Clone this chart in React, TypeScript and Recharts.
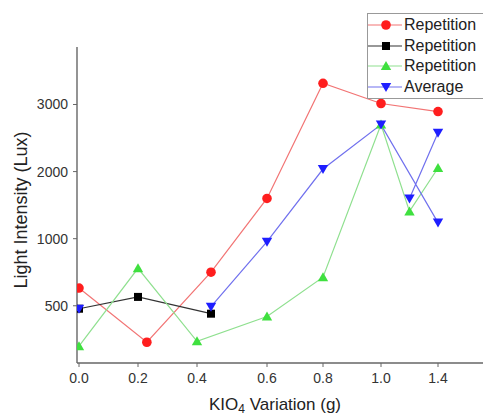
import { LineChart, Line, XAxis, YAxis } from "recharts";

// x tick labels and where they sit (the source axis is not evenly spaced)
const X_LABELS = [0, 0.2, 0.4, 0.6, 0.8, 1.0, 1.4];
const X_POS = [0, 59, 118, 188, 244, 302, 359];

// y tick labels (the source axis is piecewise: 500-1000 gets the same room as 1000-2000)
const Y_LABELS = [500, 1000, 2000, 3000];

const redX = [0, 0.23, 0.44, 0.6, 0.8, 1.0, 1.4];
const redY = [632, 228, 750, 1600, 3316, 3015, 2895];

const blackX = [0, 0.2, 0.44];
const blackY = [478, 566, 441];

const greenX = [0, 0.2, 0.4, 0.6, 0.8, 1.0, 1.2, 1.4];
const greenY = [199, 779, 235, 420, 713, 2700, 1406, 2053];

// null = break in the line
const blueX = [0, 0.2, 0.44, 0.6, 0.8, 1.0, 1.4, 1.3, 1.2, 1.4];
const blueY = [478, null, 493, 978, 2038, 2700, 1240, null, 1600, 2580];

const NAMES = ["Repetition", "Repetition", "Repetition", "Average"];

const xPos = (x: number) => {
  for (let i = 1; i < X_LABELS.length; i++) {
    if (x <= X_LABELS[i]) {
      const t = (x - X_LABELS[i - 1]) / (X_LABELS[i] - X_LABELS[i - 1]);
      return X_POS[i - 1] + t * (X_POS[i] - X_POS[i - 1]);
    }
  }
  return X_POS[X_POS.length - 1];
};

const yPos = (v: number | null) => {
  if (v == null) return null;
  return v <= 1000 ? v / 500 : 2 + (v - 1000) / 1000;
};

const build = (xs: number[], ys: (number | null)[]) =>
  xs.map((x, i) => ({ x: xPos(x), y: yPos(ys[i]) }));

const SERIES = [
  { data: build(redX, redY), line: "#f27474", mark: "#ff1e1e", shape: "circle" },
  { data: build(blackX, blackY), line: "#333333", mark: "#000000", shape: "square" },
  { data: build(greenX, greenY), line: "#8fe08f", mark: "#3fe03f", shape: "up" },
  { data: build(blueX, blueY), line: "#7070ee", mark: "#1e1eff", shape: "down" },
];

const Marker = ({ shape, color, cx, cy }: any) => {
  if (shape === "circle") return <circle cx={cx} cy={cy} r={4.8} fill={color} />;
  if (shape === "square")
    return <rect x={cx - 4} y={cy - 4} width={8} height={8} fill={color} />;
  if (shape === "up")
    return (
      <polygon
        points={`${cx},${cy - 5} ${cx - 5.2},${cy + 4} ${cx + 5.2},${cy + 4}`}
        fill={color}
      />
    );
  return (
    <polygon
      points={`${cx},${cy + 5} ${cx - 5.2},${cy - 4} ${cx + 5.2},${cy - 4}`}
      fill={color}
    />
  );
};

const makeDot = (shape: string, color: string) => (props: any) => {
  const { cx, cy, index } = props;
  if (cy == null || cx == null || props.value == null || props.payload?.y == null)
    return <g key={index} />;
  return (
    <g key={index}>
      <Marker shape={shape} color={color} cx={cx} cy={cy} />
    </g>
  );
};

const FONT = '"Liberation Sans", Arial, sans-serif';

export default function App() {
  return (
    <div
      style={{
        position: "absolute",
        left: 0,
        top: 0,
        width: 483,
        height: 417,
        overflow: "hidden",
        background: "#fff",
        fontFamily: FONT,
      }}
    >
      <LineChart
        width={483}
        height={417}
        margin={{ top: 47, right: 0, bottom: 0, left: 0 }}
      >
        <XAxis
          dataKey="x"
          type="number"
          domain={[-2, 404]}
          ticks={X_POS}
          allowDataOverflow
          height={54}
          tickSize={4}
          tickMargin={6}
          tickFormatter={(p: number) => X_LABELS[X_POS.indexOf(p)].toFixed(1)}
          tick={{ fill: "#333", fontSize: 14, fontFamily: FONT }}
          axisLine={{ stroke: "#666", strokeWidth: 1.4 }}
          tickLine={{ stroke: "#666" }}
        />
        <YAxis
          type="number"
          domain={[0.147, 4.857]}
          ticks={[1, 2, 3, 4]}
          allowDataOverflow
          width={77}
          tickSize={4}
          tickMargin={5}
          tickFormatter={(u: number) => String(Y_LABELS[u - 1])}
          tick={{ fill: "#333", fontSize: 14, fontFamily: FONT }}
          axisLine={{ stroke: "#666", strokeWidth: 1.4 }}
          tickLine={{ stroke: "#666" }}
        />
        {SERIES.map((s, i) => (
          <Line
            key={i}
            data={s.data}
            dataKey="y"
            stroke={s.line}
            strokeWidth={1.2}
            dot={makeDot(s.shape, s.mark)}
            activeDot={false}
            isAnimationActive={false}
          />
        ))}
      </LineChart>

      <div
        style={{
          position: "absolute",
          left: 275,
          top: 405,
          transform: "translate(-50%, -50%)",
          whiteSpace: "nowrap",
          fontSize: 17,
          color: "#222",
          lineHeight: "18px",
        }}
      >
        KIO
        <span style={{ fontSize: 12, position: "relative", top: 3, lineHeight: "12px" }}>
          4
        </span>{" "}
        Variation (g)
      </div>

      <div
        style={{
          position: "absolute",
          left: 21,
          top: 210,
          transform: "translate(-50%, -50%) rotate(-90deg)",
          whiteSpace: "nowrap",
          fontSize: 18,
          color: "#222",
          lineHeight: "20px",
        }}
      >
        Light Intensity (Lux)
      </div>

      <div
        style={{
          position: "absolute",
          left: 367,
          top: 13,
          width: 130,
          height: 83,
          border: "1px solid #999",
          background: "#fff",
          paddingTop: 1,
        }}
      >
        {SERIES.map((s, i) => (
          <div
            key={i}
            style={{ display: "flex", alignItems: "center", height: 20.5 }}
          >
            <svg width={36} height={16} style={{ flexShrink: 0 }}>
              <line x1={0} y1={8} x2={34} y2={8} stroke={s.line} strokeWidth={1.2} />
              <Marker shape={s.shape} color={s.mark} cx={18} cy={8} />
            </svg>
            <span style={{ fontSize: 16, color: "#222", lineHeight: "20px" }}>
              {NAMES[i]}
            </span>
          </div>
        ))}
      </div>
    </div>
  );
}
